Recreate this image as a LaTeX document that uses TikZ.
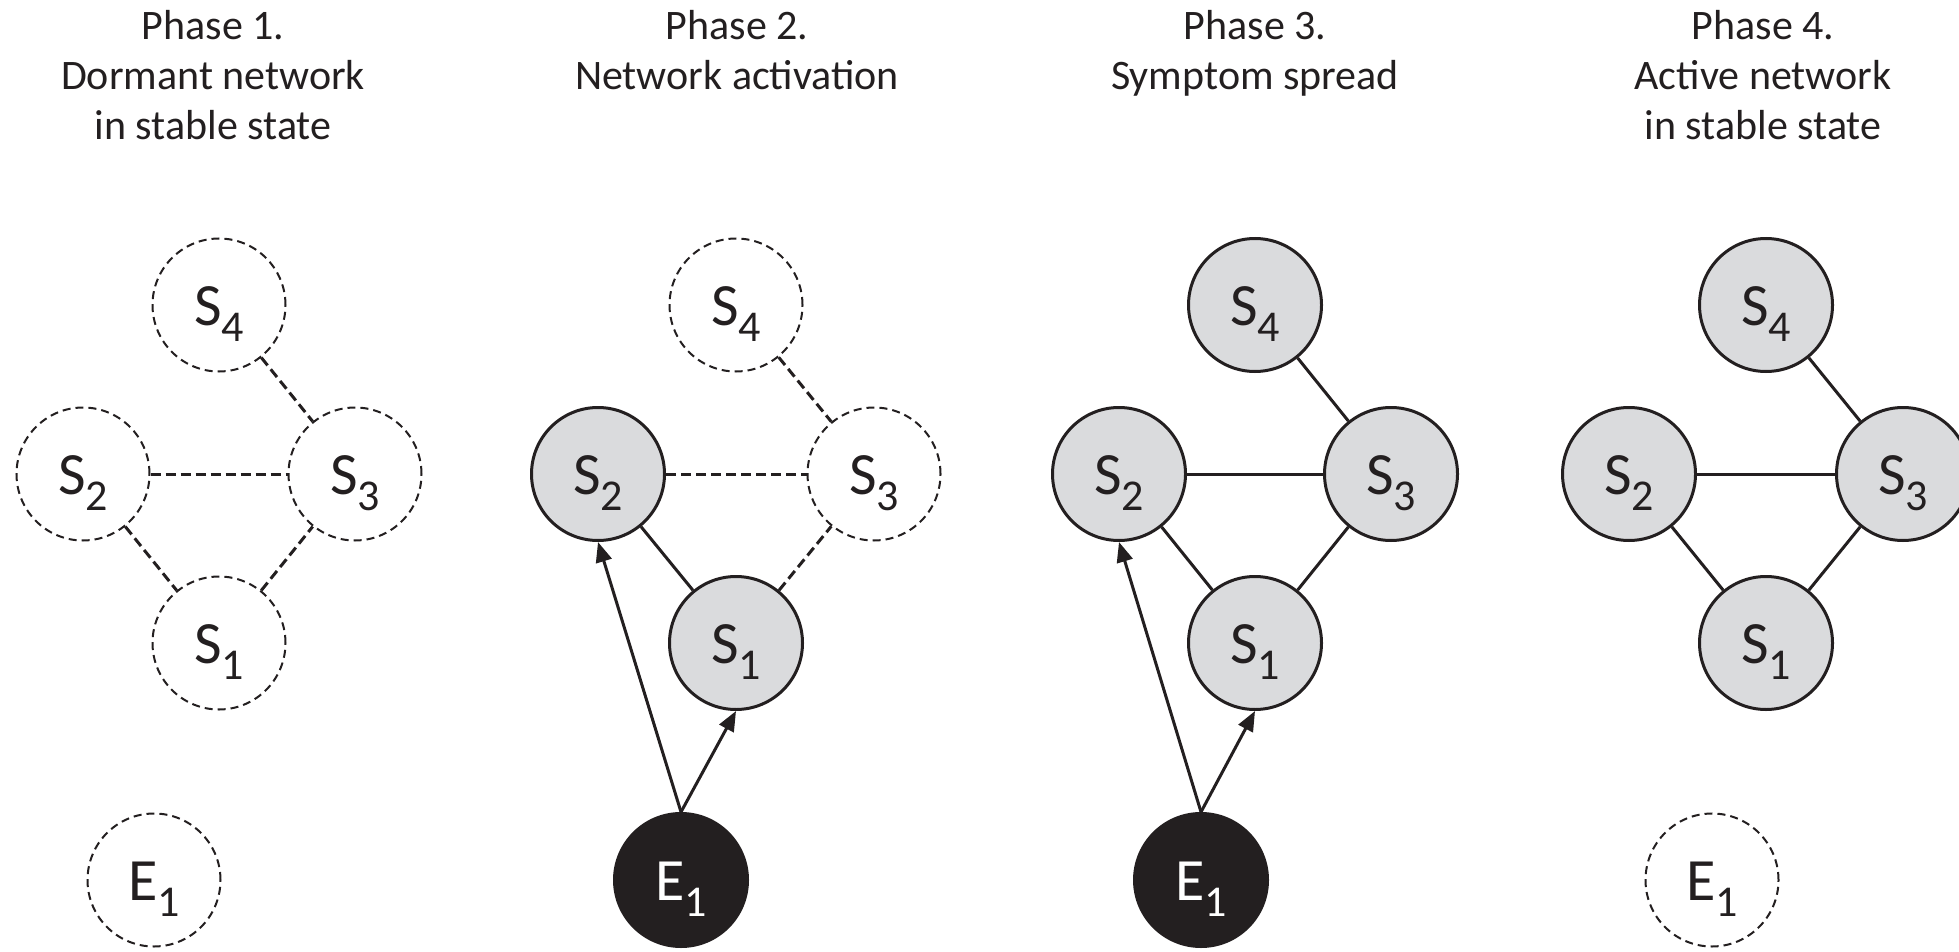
\documentclass[tikz,border=0pt]{standalone}
\usepackage{fontspec}
\setmainfont{Carlito}
\usetikzlibrary{arrows.meta}
\definecolor{ink}{HTML}{231F20}
\definecolor{nodegray}{HTML}{DADBDD}
\newcommand{\lbl}[2]{#1\raisebox{-16pt}{\fontsize{44}{44}\selectfont #2}}
\tikzset{
  sym/.style={circle, minimum size=133pt, inner sep=0pt, text height=40pt, text depth=0pt,
    font=\fontsize{60}{60}\selectfont, text=ink},
  dormant/.style={sym, draw=ink, line width=2pt, dash pattern=on 8pt off 5pt},
  active/.style={sym, draw=ink, line width=3pt, fill=nodegray},
  exo/.style={sym, draw=ink, line width=3pt, fill=ink, text=white},
  link/.style={draw=ink, line width=3pt},
  dlink/.style={link, dash pattern=on 10pt off 5pt},
  cause/.style={draw=ink, line width=3pt, -{Triangle[length=20pt,width=16pt]}},
  title/.style={align=center, font=\fontsize{42}{50}\selectfont, text=ink, anchor=north, inner sep=0pt},
}
\begin{document}
\begin{tikzpicture}[x=1pt,y=-1pt]
\useasboundingbox (0,0) rectangle (1959,952);
% titles
\node[title] (t1) at (213,10) {Phase 1.\\Dormant network\\in stable state};
\node[title] (t2) at (737,10) {Phase 2.\\Network activation};
\node[title] (t3) at (1255,10) {Phase 3.\\Symptom spread};
\node[title] (t4) at (1763,10) {Phase 4.\\Active network\\in stable state};
% phase 1
\node[dormant] (a4) at (219,305) {\lbl{S}{4}};
\node[dormant] (a2) at (83,474) {\lbl{S}{2}};
\node[dormant] (a3) at (355,474) {\lbl{S}{3}};
\node[dormant] (a1) at (219,643) {\lbl{S}{1}};
\node[dormant] (ae) at (154,880) {\lbl{E}{1}};
\draw[dlink] (a4) -- (a3);
\draw[dlink] (a2) -- (a3);
\draw[dlink] (a2) -- (a1);
\draw[dlink] (a1) -- (a3);
% phase 2
\node[dormant] (b4) at (736,305) {\lbl{S}{4}};
\node[active] (b2) at (598,474) {\lbl{S}{2}};
\node[dormant] (b3) at (874,474) {\lbl{S}{3}};
\node[active] (b1) at (736,643) {\lbl{S}{1}};
\node[exo] (be) at (681,880) {\lbl{E}{1}};
\draw[dlink] (b4) -- (b3);
\draw[dlink] (b2) -- (b3);
\draw[link] (b2) -- (b1);
\draw[dlink] (b1) -- (b3);
\draw[cause] (be.north) -- (b2.south);
\draw[cause] (be.north) -- (b1.south);
% phase 3
\node[active] (c4) at (1255,305) {\lbl{S}{4}};
\node[active] (c2) at (1119,474) {\lbl{S}{2}};
\node[active] (c3) at (1391,474) {\lbl{S}{3}};
\node[active] (c1) at (1255,643) {\lbl{S}{1}};
\node[exo] (ce) at (1201,880) {\lbl{E}{1}};
\draw[link] (c4) -- (c3);
\draw[link] (c2) -- (c3);
\draw[link] (c2) -- (c1);
\draw[link] (c1) -- (c3);
\draw[cause] (ce.north) -- (c2.south);
\draw[cause] (ce.north) -- (c1.south);
% phase 4
\node[active] (d4) at (1766,305) {\lbl{S}{4}};
\node[active] (d2) at (1629,474) {\lbl{S}{2}};
\node[active] (d3) at (1903,474) {\lbl{S}{3}};
\node[active] (d1) at (1766,643) {\lbl{S}{1}};
\node[dormant] (de) at (1712,880) {\lbl{E}{1}};
\draw[link] (d4) -- (d3);
\draw[link] (d2) -- (d3);
\draw[link] (d2) -- (d1);
\draw[link] (d1) -- (d3);
\end{tikzpicture}
\end{document}
